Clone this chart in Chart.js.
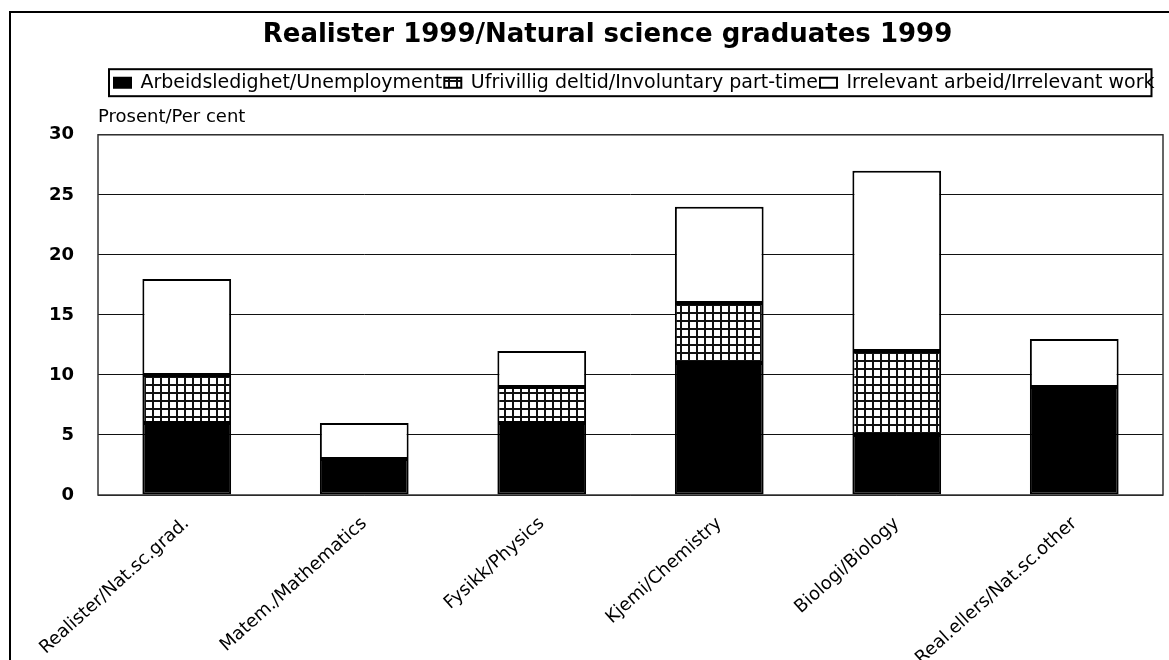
<!DOCTYPE html>
<html>
<head>
<meta charset="utf-8">
<script src="https://cdn.jsdelivr.net/npm/chart.js@4/dist/chart.umd.min.js"></script>
<style>
  html, body { margin: 0; padding: 0; background: #ffffff; }
  #wrap { width: 1169px; height: 660px; position: relative; }
</style>
</head>
<body>
<div id="wrap"><canvas id="c" width="1169" height="660"></canvas></div>
<script>
const titleText = 'Realister 1999/Natural science graduates 1999';
const yUnitLabel = 'Prosent/Per cent';
const categories = ['Realister/Nat.sc.grad.', 'Matem./Mathematics', 'Fysikk/Physics', 'Kjemi/Chemistry', 'Biologi/Biology', 'Real.ellers/Nat.sc.other'];
const seriesNames = ['Arbeidsledighet/Unemployment', 'Ufrivillig deltid/Involuntary part-time', 'Irrelevant arbeid/Irrelevant work'];
const unemployment = [6, 3, 6, 11, 5, 9];
const involuntaryPartTime = [4, 0, 3, 5, 7, 0];
const irrelevantWork = [8, 3, 3, 8, 15, 4];
const yTicks = [0, 5, 10, 15, 20, 25, 30];

function makeHatch() {
  const t = document.createElement('canvas');
  t.width = 8; t.height = 8;
  const g = t.getContext('2d');
  g.fillStyle = '#ffffff';
  g.fillRect(0, 0, 8, 8);
  g.fillStyle = '#111111';
  g.fillRect(0, 0, 2, 8);
  g.fillRect(0, 0, 8, 2);
  return g.createPattern(t, 'repeat');
}
const hatch = makeHatch();

const FONT = "'DejaVu Sans', 'Liberation Sans', Arial, sans-serif";

const framePlugin = {
  id: 'framePlugin',
  beforeDraw(chart) {
    const ctx = chart.ctx;
    ctx.save();
    ctx.fillStyle = '#ffffff';
    ctx.fillRect(0, 0, chart.width, chart.height);
    ctx.strokeStyle = '#000000';
    ctx.lineWidth = 2;
    ctx.strokeRect(10, 12, chart.width + 50, chart.height + 50);
    ctx.restore();
  },
  afterLayout(chart) {
    const lg = chart.legend;
    if (lg) {
      const shift = 112 - lg.left;
      lg.left += shift;
      lg.right += shift;
    }
    const tb = chart.titleBlock;
    if (tb) {
      tb.left = 52;
    }
  },
  afterDatasetsDraw(chart) {
    const ctx = chart.ctx;
    const a = chart.chartArea;
    ctx.save();
    ctx.strokeStyle = '#333333';
    ctx.lineWidth = 1.5;
    ctx.strokeRect(a.left, a.top, a.right - a.left, a.bottom - a.top);
    ctx.restore();
  },
  afterDraw(chart) {
    const lg = chart.legend;
    if (!lg || !lg.legendHitBoxes || !lg.legendHitBoxes.length) return;
    const hb = lg.legendHitBoxes;
    const first = hb[0], last = hb[hb.length - 1];
    const ctx = chart.ctx;
    ctx.save();
    ctx.strokeStyle = '#000000';
    ctx.lineWidth = 2;
    const x0 = first.left - 5;
    const x1 = last.left + last.width - 3;
    const y0 = first.top - 4;
    ctx.strokeRect(x0, y0, x1 - x0, first.height + 8);
    ctx.restore();
  }
};

new Chart(document.getElementById('c'), {
  type: 'bar',
  data: {
    labels: categories,
    datasets: [
      { label: seriesNames[0], data: unemployment, backgroundColor: '#000000', borderColor: '#000000', borderWidth: 2, borderSkipped: false },
      { label: seriesNames[1], data: involuntaryPartTime, backgroundColor: hatch, borderColor: '#000000', borderWidth: 2, borderSkipped: false },
      { label: seriesNames[2], data: irrelevantWork, backgroundColor: '#ffffff', borderColor: '#000000', borderWidth: 2, borderSkipped: false }
    ]
  },
  options: {
    responsive: false,
    animation: false,
    devicePixelRatio: 1,
    layout: { padding: { left: 0, right: 6, top: 0, bottom: 0 } },
    datasets: { bar: { categoryPercentage: 1.0, barPercentage: 0.5 } },
    plugins: {
      title: {
        display: true,
        text: titleText,
        color: '#000000',
        font: { family: FONT, size: 26, weight: 'bold' },
        padding: { top: 20, bottom: 20 }
      },
      legend: {
        display: true,
        position: 'top',
        align: 'start',
        labels: {
          color: '#000000',
          font: { family: FONT, size: 19 },
          boxWidth: 17,
          boxHeight: 10,
          padding: 2
        }
      },
      subtitle: {
        display: true,
        text: yUnitLabel,
        align: 'start',
        fullSize: false,
        weight: 500,
        color: '#000000',
        font: { family: FONT, size: 18 },
        padding: { top: 4, bottom: 7 }
      },
      tooltip: { enabled: false }
    },
    scales: {
      x: {
        stacked: true,
        grid: { display: false, drawTicks: false },
        border: { display: false },
        ticks: {
          color: '#000000',
          font: { family: FONT, size: 18 },
          minRotation: 42,
          maxRotation: 42,
          autoSkip: false,
          padding: 18
        },
        afterFit(scale) { scale.height = 165; }
      },
      y: {
        stacked: true,
        min: 0,
        max: 30,
        afterBuildTicks(scale) { scale.ticks = yTicks.map(v => ({ value: v })); },
        grid: { color: '#111111', lineWidth: 1, drawTicks: false },
        border: { display: false },
        ticks: {
          color: '#000000',
          font: { family: FONT, size: 18, weight: 'bold' },
          padding: 24
        },
        afterFit(scale) { scale.width = 98; }
      }
    }
  },
  plugins: [framePlugin]
});
</script>
</body>
</html>
